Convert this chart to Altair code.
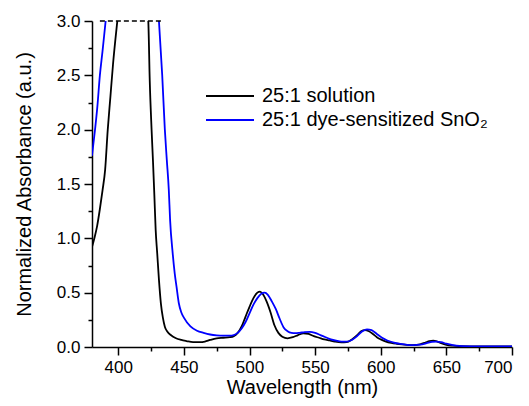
import altair as alt
import pandas as pd

# --- data ---
series_names = ["25:1 solution", "25:1 dye-sensitized SnO₂"]

wl_solution = [380, 382, 384, 386, 388, 390, 392, 394, 396, 399.3, 405, 410, 415, 420, 422.9,
               424, 425.4, 426.5, 427.5, 428.5, 429.7, 431, 432.5, 434, 435.5, 437.5, 440, 444,
               448, 452, 457, 462, 466, 470, 475, 480, 485, 488, 491, 494, 497, 500, 503, 506,
               508, 510, 513, 516, 519, 522, 525, 529, 533, 537, 541, 545, 549, 553, 557, 561,
               565, 570, 574, 578, 582, 585, 588, 591, 594, 597, 600, 604, 608, 612, 616, 620,
               625, 630, 634, 637, 640, 643, 646, 650, 655, 660, 670, 680, 690, 700]
abs_solution = [0.92, 1.01, 1.12, 1.27, 1.44, 1.63, 2.0, 2.3, 2.6, 3.0, 3.6, 3.8, 3.8, 3.4, 3.0,
                2.45, 2.0, 1.7, 1.4, 1.08, 0.86, 0.62, 0.40, 0.27, 0.187, 0.14, 0.11, 0.08,
                0.065, 0.055, 0.045, 0.045, 0.05, 0.065, 0.08, 0.085, 0.09, 0.10, 0.13, 0.19,
                0.28, 0.37, 0.45, 0.50, 0.51, 0.49, 0.42, 0.32, 0.20, 0.13, 0.095, 0.08, 0.09,
                0.11, 0.125, 0.12, 0.10, 0.085, 0.07, 0.06, 0.05, 0.043, 0.045, 0.07, 0.11,
                0.145, 0.156, 0.145, 0.12, 0.09, 0.07, 0.05, 0.038, 0.03, 0.024, 0.02, 0.018,
                0.025, 0.04, 0.053, 0.058, 0.05, 0.035, 0.02, 0.012, 0.008, 0.006, 0.005,
                0.005, 0.005]

wl_film = [380, 382.3, 384, 386, 388, 390.4, 395, 400, 410, 420, 427, 431, 433.5, 435.5, 437,
           438.5, 439.5, 441.5, 443, 444.4, 446.2, 448, 450, 455, 460, 465, 470, 475, 480, 485,
           488, 491, 494, 497, 500, 503, 506, 509, 511.5, 514, 517, 520, 523, 526, 529, 532,
           535, 538, 542, 546, 550, 554, 558, 562, 566, 570, 574, 578, 582, 586, 589.5, 593,
           597, 601, 605, 610, 615, 620, 625, 630, 635, 639, 642.5, 646, 650, 655, 660, 670,
           680, 690, 700]
abs_film = [1.76, 2.0, 2.2, 2.5, 2.72, 3.0, 3.5, 3.9, 4.1, 4.0, 3.6, 3.0, 2.5, 2.0, 1.72,
            1.45, 1.17, 0.86, 0.68, 0.555, 0.40, 0.32, 0.27, 0.19, 0.15, 0.13, 0.115, 0.107,
            0.104, 0.104, 0.11, 0.13, 0.17, 0.23, 0.31, 0.39, 0.45, 0.49, 0.50, 0.48, 0.42,
            0.35, 0.26, 0.18, 0.145, 0.13, 0.127, 0.13, 0.137, 0.14, 0.13, 0.11, 0.09, 0.07,
            0.058, 0.05, 0.05, 0.065, 0.10, 0.145, 0.163, 0.155, 0.12, 0.085, 0.06, 0.04,
            0.028, 0.02, 0.018, 0.022, 0.035, 0.047, 0.05, 0.045, 0.03, 0.017, 0.01, 0.006,
            0.005, 0.005, 0.005]

saturation_x = [386, 434]
saturation_y = [3.0]

x_major = [400, 450, 500, 550, 600, 650, 700]
x_minor = [425, 475, 525, 575, 625, 675]
y_major = [0.0, 0.5, 1.0, 1.5, 2.0, 2.5, 3.0]
y_minor = [0.25, 0.75, 1.25, 1.75, 2.25, 2.75]

colors = ["#000000", "#0000ff"]
FONT = "Liberation Sans"

df = pd.concat([
    pd.DataFrame({"wl": wl_solution, "a": abs_solution, "s": series_names[0], "o": 0}),
    pd.DataFrame({"wl": wl_film, "a": abs_film, "s": series_names[1], "o": 1}),
], ignore_index=True)

sat_df = pd.DataFrame({"x": [saturation_x[0]], "x2": [saturation_x[1]], "y": saturation_y})

xscale = alt.Scale(domain=[380, 700], nice=False, zero=False)
yscale = alt.Scale(domain=[0, 3], nice=False)

lines = alt.Chart(df).mark_line(strokeWidth=1.8, clip=True, interpolate="monotone").encode(
    x=alt.X("wl:Q", scale=xscale,
            axis=alt.Axis(values=x_major, title="Wavelength (nm)", tickSize=8,
                          labelPadding=4, titlePadding=2, format="d")),
    y=alt.Y("a:Q", scale=yscale,
            axis=alt.Axis(values=y_major, format=".1f", title="Normalized Absorbance (a.u.)",
                          tickSize=8, labelPadding=4, titlePadding=22)),
    color=alt.Color("s:N", scale=alt.Scale(domain=series_names, range=colors),
                    legend=alt.Legend(title=None, orient="none", legendX=113, legendY=65,
                                      symbolType="stroke", symbolSize=2304,
                                      symbolStrokeWidth=1.8, labelFontSize=20,
                                      labelFont=FONT, labelColor="#000000", labelOffset=7,
                                      clipHeight=20, rowPadding=4, labelLimit=400)),
    detail="s:N",
    order="o:Q",
)

sat = alt.Chart(sat_df).mark_rule(color="#000000", strokeWidth=1.5, strokeDash=[5, 3]).encode(
    x=alt.X("x:Q", scale=xscale,
            axis=alt.Axis(values=x_minor, labels=False, domain=False, tickSize=4,
                          title=None, orient="bottom")),
    x2="x2:Q",
    y=alt.Y("y:Q", scale=yscale,
            axis=alt.Axis(values=y_minor, labels=False, domain=False, tickSize=4,
                          title=None, orient="left")),
)

chart = alt.layer(lines, sat).resolve_axis(x="independent", y="independent").properties(
    width=420, height=326,
    autosize=alt.AutoSizeParams(type="none"),
    padding={"left": 84, "top": 13, "right": 9, "bottom": 51},
).configure_view(strokeWidth=0).configure_axis(
    grid=False, labelFont=FONT, titleFont=FONT, labelFontSize=17, titleFontSize=20,
    titleFontWeight="normal", labelColor="#000000", titleColor="#000000",
    domainColor="#000000", tickColor="#000000", domainWidth=1.5, tickWidth=1.5,
)

chart.save("out.html", embed_options={"renderer": "svg", "actions": False})
